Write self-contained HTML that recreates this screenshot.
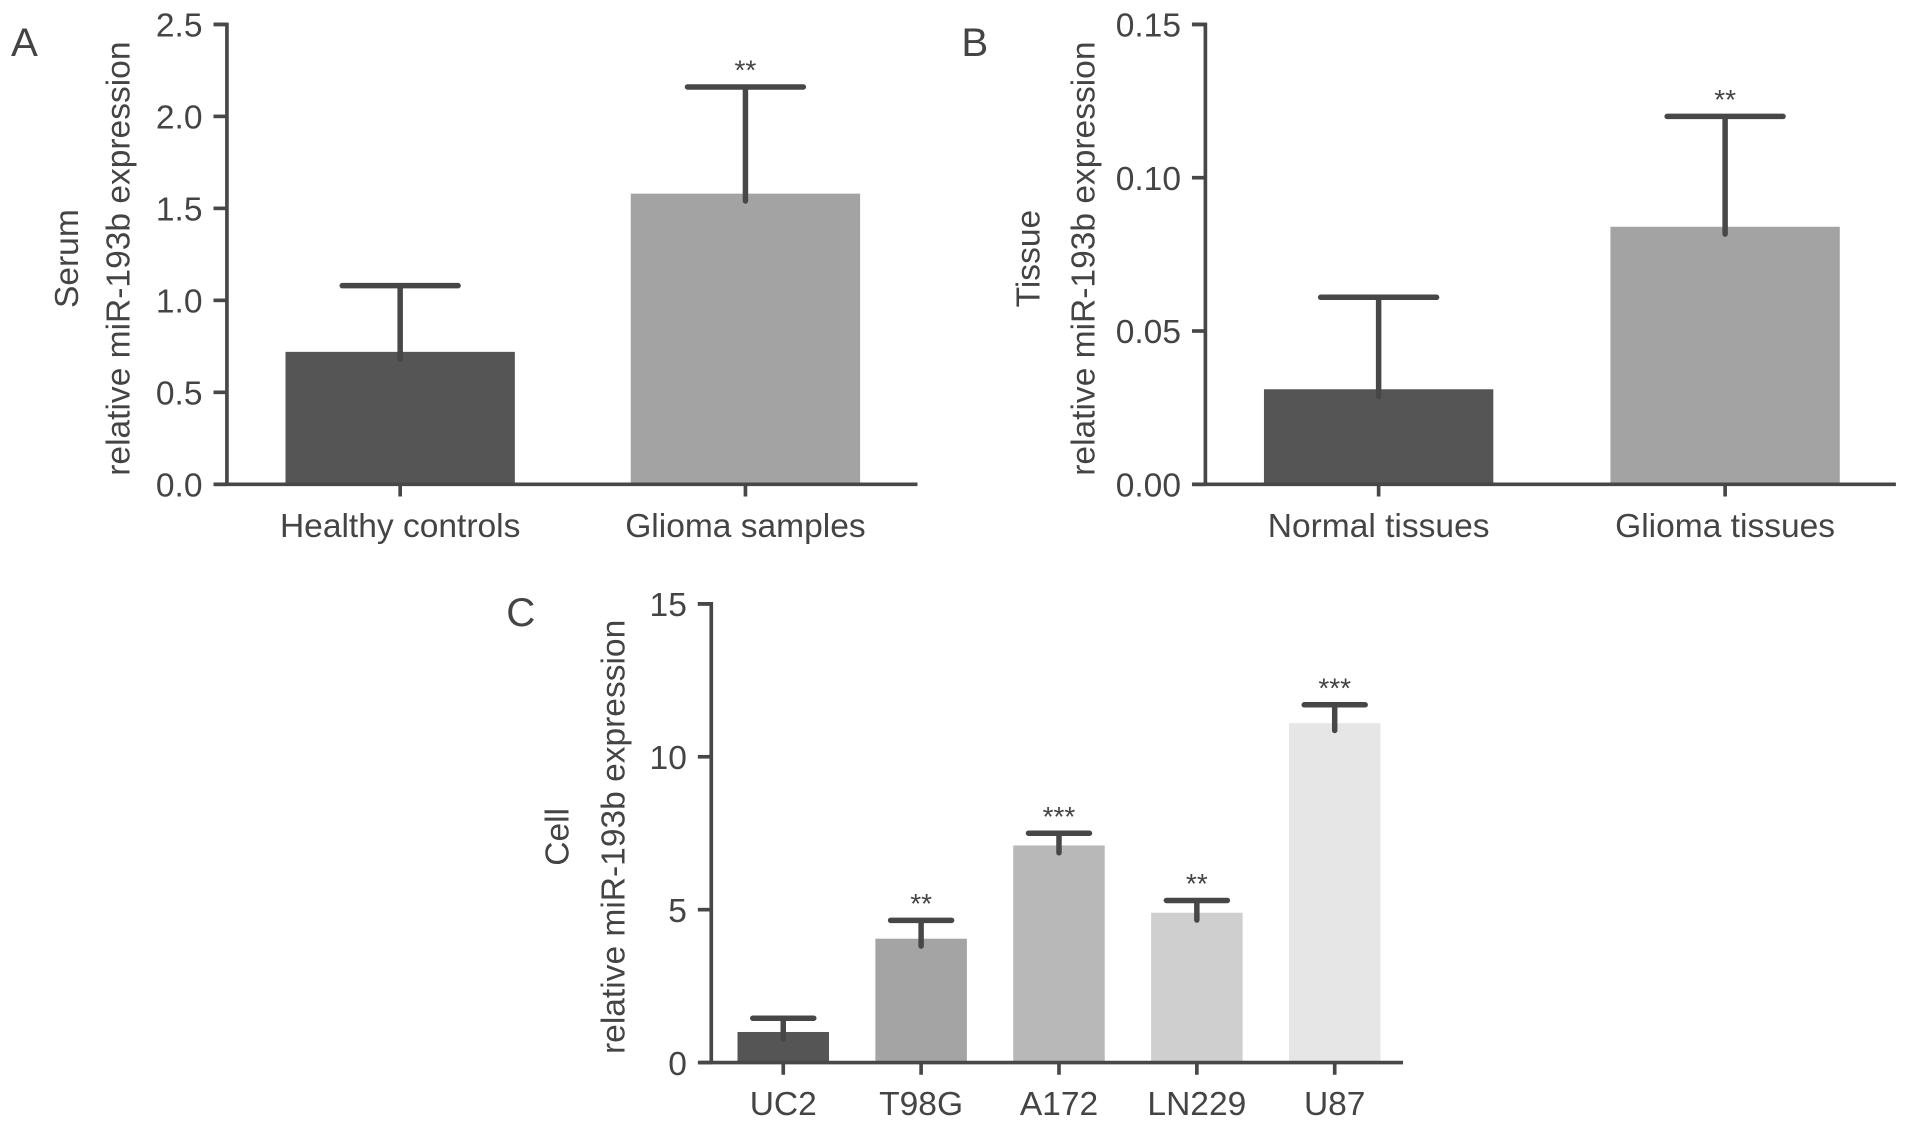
<!DOCTYPE html>
<html><head><meta charset="utf-8"><style>
html,body{margin:0;padding:0;background:#fff;}
svg{display:block;}
text{font-family:"Liberation Sans",sans-serif;fill:#444;}
</style></head>
<body>
<svg id="fig" width="1913" height="1126" viewBox="0 0 1568 923" preserveAspectRatio="none" xmlns="http://www.w3.org/2000/svg"></svg>
<script>
// Panel A data
const catsA = ["Healthy controls", "Glioma samples"];
const valsA = [0.72, 1.58];
const errA = [1.08, 2.16];
const starsA = ["", "**"];
const ticksA = ["0.0","0.5","1.0","1.5","2.0","2.5"];
const colorsA = ["#555555", "#a3a3a3"];
// Panel B data
const catsB = ["Normal tissues", "Glioma tissues"];
const valsB = [0.031, 0.084];
const errB = [0.061, 0.12];
const starsB = ["", "**"];
const ticksB = ["0.00","0.05","0.10","0.15"];
const colorsB = ["#555555", "#a3a3a3"];
// Panel C data
const catsC = ["UC2", "T98G", "A172", "LN229", "U87"];
const valsC = [1.0, 4.05, 7.1, 4.9, 11.1];
const errC = [1.45, 4.65, 7.5, 5.3, 11.7];
const starsC = ["", "**", "***", "**", "***"];
const ticksC = ["0","5","10","15"];
const colorsC = ["#555555", "#a4a4a4", "#b8b8b8", "#cfcfcf", "#e6e6e6"];

const NS = "http://www.w3.org/2000/svg";
const svg = document.getElementById("fig");
function mk(tag, attrs, parent, txt) {
  const e = document.createElementNS(NS, tag);
  for (const k in attrs) e.setAttribute(k, attrs[k]);
  if (txt !== undefined) e.textContent = txt;
  (parent || svg).appendChild(e);
  return e;
}
const FS = 27.5;

function panel(o) {
  const g = mk("g", {});
  
  
  const ymax = parseFloat(o.ticks[o.ticks.length - 1]);
  const y = v => o.y0 - (v / ymax) * (o.y0 - o.y1);
  const stroke = "#474747";
  o.cats.forEach((c, i) => {
    const cx = o.xStart + i * o.step;
    const bar = mk("rect", {x: cx - o.bw / 2, y: y(o.vals[i]), width: o.bw, height: o.y0 - y(o.vals[i]), fill: o.colors[i]}, g);
    
    
    const eb = mk("path", {d: `M${cx},${y(o.vals[i]) + 6}V${y(o.err[i])}M${cx - o.cap / 2},${y(o.err[i])}H${cx + o.cap / 2}`, stroke: stroke, "stroke-width": 4.5, "stroke-linecap": "round", fill: "none"}, g);
    
    
    if (o.stars[i]) {
      const s = mk("text", {x: cx, y: y(o.err[i]) - 6, "text-anchor": "middle", "font-size": 23}, g, o.stars[i]);
      
      
    }
    const tk = mk("line", {x1: cx, x2: cx, y1: o.y0, y2: o.y0 + 10, stroke: stroke, "stroke-width": 3}, g);
    
    
    const lb = mk("text", {x: cx, y: o.y0 + 43, "text-anchor": "middle", "font-size": FS}, g, c);
    
    
  });
  const ax = mk("path", {d: `M${o.ax - 11},${o.y1}H${o.ax}V${o.y0}M${o.ax - 10},${o.y0}H${o.xEnd}`, stroke: stroke, "stroke-width": 3, fill: "none"}, g);
  
  
  o.ticks.forEach(t => {
    const ty = y(parseFloat(t));
    const tl = mk("line", {x1: o.ax - 11, x2: o.ax, y1: ty, y2: ty, stroke: stroke, "stroke-width": 3}, g);
    
    
    const tt = mk("text", {x: o.ax - 20, y: ty + 10, "text-anchor": "end", "font-size": FS}, g, t);
    
    
  });
  const t1 = mk("text", {transform: `translate(${o.tx1},${o.tmid}) rotate(-90)`, "text-anchor": "middle", "font-size": FS}, g, o.title1);
  
  
  const t2 = mk("text", {transform: `translate(${o.tx2},${o.tmid}) rotate(-90)`, "text-anchor": "middle", "font-size": FS}, g, "relative miR-193b expression");
  
  
  const pl = mk("text", {x: o.lx, y: o.ly, "font-size": 33}, g, o.letter);
  
  
}

panel({name: "panel-a-serum", cats: catsA, vals: valsA, err: errA, stars: starsA, ticks: ticksA, colors: colorsA,
  ax: 186, y0: 397, y1: 20, xStart: 328, step: 283, bw: 188, cap: 95, xEnd: 752,
  title1: "Serum", tx1: 64, tx2: 106, tmid: 212, letter: "A", lx: 9, ly: 46});
panel({name: "panel-b-tissue", cats: catsB, vals: valsB, err: errB, stars: starsB, ticks: ticksB, colors: colorsB,
  ax: 988, y0: 397, y1: 20, xStart: 1130, step: 284, bw: 188, cap: 95, xEnd: 1554,
  title1: "Tissue", tx1: 852, tx2: 897, tmid: 212, letter: "B", lx: 788, ly: 46});
panel({name: "panel-c-cell", cats: catsC, vals: valsC, err: errC, stars: starsC, ticks: ticksC, colors: colorsC,
  ax: 583, y0: 871, y1: 495, xStart: 642, step: 113, bw: 75, cap: 50, xEnd: 1150,
  title1: "Cell", tx1: 466, tx2: 512, tmid: 686, letter: "C", lx: 415, ly: 513});
</script>
</body></html>
